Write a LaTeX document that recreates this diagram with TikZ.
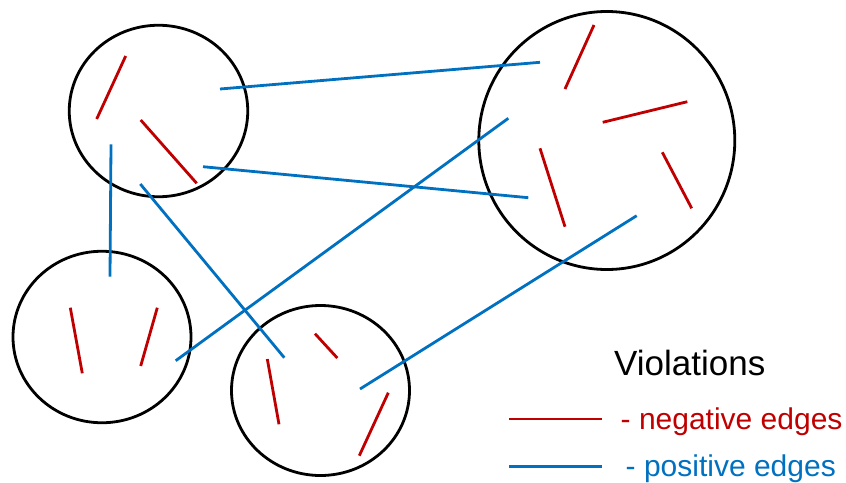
\documentclass[tikz,border=0pt]{standalone}
\usepackage{fontspec}
\setmainfont{Liberation Sans}
\usetikzlibrary{shapes.geometric}
\definecolor{negred}{RGB}{192,0,0}
\definecolor{posblue}{RGB}{0,112,192}
\tikzset{
  grp/.style={ellipse,draw=black,line width=2.8pt,inner sep=0pt,minimum width=#1},
  negedge/.style={draw=negred,line width=2.8pt},
  posedge/.style={draw=posblue,line width=2.8pt},
}
\begin{document}
\begin{tikzpicture}[x=1pt,y=-1pt]
\useasboundingbox (0,0) rectangle (846,482);
% groups
\node[grp=178.5pt,minimum height=171.5pt] (g1) at (158.5,111) {};
\node[grp=256pt,minimum height=258pt] (g2) at (606.8,140.5) {};
\node[grp=178pt,minimum height=171.5pt] (g3) at (102,337) {};
\node[grp=178pt,minimum height=170pt] (g4) at (320.5,390.5) {};
% negative edges (endpoints)
\coordinate (n1a) at (125.7,56);   \coordinate (n1b) at (96.7,119);
\coordinate (n2a) at (140.7,120);  \coordinate (n2b) at (196.7,183.3);
\coordinate (n3a) at (594,25);     \coordinate (n3b) at (565,89);
\coordinate (n4a) at (602.7,122.3);  \coordinate (n4b) at (687.3,101.7);
\coordinate (n5a) at (540,148.3);  \coordinate (n5b) at (565,226.7);
\coordinate (n6a) at (662.3,152.3);  \coordinate (n6b) at (691.7,208.3);
\coordinate (n7a) at (70.3,307.7); \coordinate (n7b) at (82.3,373.3);
\coordinate (n8a) at (157.3,307.7);  \coordinate (n8b) at (140.7,366);
\coordinate (n9a) at (267.3,359);  \coordinate (n9b) at (279,424.3);
\coordinate (n10a) at (315,333.7); \coordinate (n10b) at (337.3,358);
\coordinate (n11a) at (388.3,392.7); \coordinate (n11b) at (359.3,455.7);
\foreach \i in {1,...,11} \draw[negedge] (n\i a) -- (n\i b);
% positive edges (endpoints)
\coordinate (p1a) at (220,89);     \coordinate (p1b) at (540,62.3);
\coordinate (p2a) at (203,166.7);  \coordinate (p2b) at (528.3,197.7);
\coordinate (p3a) at (111,144.3);  \coordinate (p3b) at (110,276.7);
\coordinate (p4a) at (140.3,184);  \coordinate (p4b) at (284.3,357.7);
\coordinate (p5a) at (175.7,360.7);  \coordinate (p5b) at (508.3,118.3);
\coordinate (p6a) at (360,389);    \coordinate (p6b) at (636.7,215.7);
\foreach \i in {1,...,6} \draw[posedge] (p\i a) -- (p\i b);
% legend
\node[anchor=base west,inner sep=0pt,font=\fontsize{35}{40}\selectfont] (title) at (614,375) {Violations};
\coordinate (la) at (509,419); \coordinate (lb) at (602,419);
\coordinate (lc) at (509,466.5); \coordinate (ld) at (602,466.5);
\draw[negedge] (la) -- (lb);
\draw[posedge] (lc) -- (ld);
\node[anchor=base west,inner sep=0pt,text=negred,font=\fontsize{30}{36}\selectfont] (negt) at (620.5,429) {- negative edges};
\node[anchor=base west,inner sep=0pt,text=posblue,font=\fontsize{30}{36}\selectfont] (post) at (625.5,476.5) {- positive edges};
\end{tikzpicture}
\end{document}
